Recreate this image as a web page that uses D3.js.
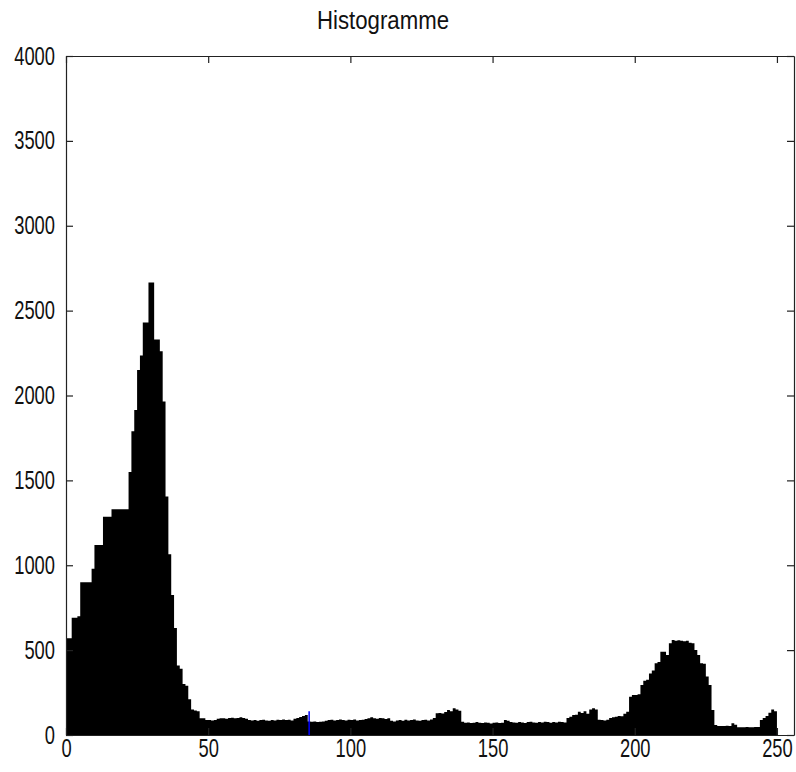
<!DOCTYPE html>
<html lang="fr">
<head>
    <meta charset="UTF-8">
    <title>Histogramme</title>
    <style>
        body { margin: 0; background: #fff; }
        text { font-family: "Liberation Sans", Arial, sans-serif; }
    </style>
</head>
<body>
    <script src="https://d3js.org/d3.v7.min.js"></script>
    <script>
        // Histogram counts, one per grey level 0..255
        let counts = [
            570, 570, 690, 690, 700, 900, 900, 900, 900, 980,
            1120, 1120, 1120, 1285, 1285, 1285, 1330, 1330, 1330, 1330,
            1330, 1330, 1550, 1790, 1915, 2150, 2235, 2430, 2430, 2665,
            2665, 2330, 2330, 2260, 1965, 1405, 1065, 825, 630, 410,
            390, 300, 290, 210, 150, 145, 140, 98, 98, 88,
            88, 86, 88, 95, 98, 98, 96, 100, 102, 98,
            100, 104, 100, 96, 88, 86, 88, 84, 88, 90,
            86, 84, 88, 86, 90, 88, 92, 88, 90, 86,
            96, 100, 106, 112, 118, 80, 78, 80, 76, 78,
            80, 84, 88, 90, 86, 88, 92, 88, 86, 90,
            88, 92, 86, 88, 90, 94, 98, 104, 98, 96,
            100, 98, 94, 98, 84, 80, 86, 88, 84, 90,
            86, 88, 92, 86, 84, 88, 90, 86, 92, 100,
            128, 130, 126, 135, 147, 140, 157, 150, 143, 78,
            72, 74, 70, 72, 76, 72, 70, 74, 72, 68,
            72, 74, 70, 72, 88, 84, 76, 74, 72, 76,
            74, 70, 76, 78, 74, 72, 76, 74, 78, 76,
            72, 76, 74, 78, 76, 74, 100, 108, 118, 120,
            137, 130, 140, 125, 150, 157, 150, 90, 88, 86,
            90, 100, 104, 108, 112, 110, 125, 137, 226, 236,
            236, 240, 295, 320, 325, 363, 380, 422, 430, 491,
            490, 471, 540, 560, 555, 558, 555, 552, 555, 544,
            540, 501, 471, 422, 420, 344, 295, 147, 59, 53,
            53, 53, 55, 53, 69, 60, 46, 46, 46, 47,
            46, 46, 47, 47, 88, 100, 112, 131, 150, 140,
            0, 0, 0, 0, 0, 0
        ];

        // a single blue stem that shows through the black bars
        let blueStems = [[85, 140]];

        let xTicks = [0, 50, 100, 150, 200, 250];
        let yTicks = [0, 500, 1000, 1500, 2000, 2500, 3000, 3500, 4000];

        let margin = {top: 56, right: 2, bottom: 37, left: 66},
            width = 796 - margin.left - margin.right,
            height = 772 - margin.top - margin.bottom;

        let root = d3.select('body')
            .append('svg')
            .attr('width', 796)
            .attr('height', 772);

        let svg = root.append('g')
            .attr('transform', 'translate(' + margin.left + ',' + margin.top + ')');

        let x = d3.scaleLinear().domain([0, 256]).range([0, width]);
        let y = d3.scaleLinear().domain([0, 4000]).range([height, 0]);

        // bars as one stepped area (bin i covers [i, i+1])
        let pts = counts.map(function(d, i) { return [i, d]; });
        pts.push([counts.length, 0]);

        let area = d3.area()
            .curve(d3.curveStepAfter)
            .x(function(d) { return x(d[0]); })
            .y0(y(0))
            .y1(function(d) { return y(d[1]); });

        svg.append('path')
            .datum(pts)
            .attr('d', area)
            .attr('fill', '#000');

        svg.selectAll('.stem')
            .data(blueStems)
            .enter()
            .append('line')
            .attr('class', 'stem')
            .attr('x1', function(d) { return x(d[0] + 0.5); })
            .attr('x2', function(d) { return x(d[0] + 0.5); })
            .attr('y1', y(0))
            .attr('y2', function(d) { return y(d[1]); })
            .attr('stroke', '#0000ff')
            .attr('stroke-width', 1.5);

        // narrow, tall glyphs like the original figure
        function squeeze(sel) {
            sel.attr('font-size', '25px')
                .attr('fill', '#111')
                .style('font-family', '"Liberation Sans", Arial, sans-serif')
                .attr('lengthAdjust', 'spacingAndGlyphs')
                .attr('textLength', function() { return this.textContent.length * 10.2; });
        }

        // axes (box with inward ticks on all four sides)
        function style(g) {
            g.select('.domain').attr('stroke', '#222').attr('stroke-width', 1.2);
            g.selectAll('.tick line').attr('stroke', '#222').attr('stroke-width', 1.2);
            g.selectAll('text').filter(function() { return this.textContent !== ''; }).call(squeeze);
        }

        let fmt = d3.format('d');

        svg.append('g')
            .attr('transform', 'translate(0,' + height + ')')
            .call(d3.axisBottom(x).tickValues(xTicks).tickFormat(fmt).tickSizeInner(-7).tickSizeOuter(0).tickPadding(4))
            .call(style);

        svg.append('g')
            .call(d3.axisLeft(y).tickValues(yTicks).tickFormat(fmt).tickSizeInner(-7).tickSizeOuter(0).tickPadding(11))
            .call(style);

        svg.append('g')
            .call(d3.axisTop(x).tickValues(xTicks).tickSizeInner(-7).tickSizeOuter(0).tickFormat(''))
            .call(style);

        svg.append('g')
            .attr('transform', 'translate(' + width + ',0)')
            .call(d3.axisRight(y).tickValues(yTicks).tickSizeInner(-7).tickSizeOuter(0).tickFormat(''))
            .call(style);

        root.append('text')
            .attr('x', 383)
            .attr('y', 29)
            .attr('text-anchor', 'middle')
            .text('Histogramme')
            .call(squeeze)
            .attr('textLength', 132);
    </script>
</body>
</html>
